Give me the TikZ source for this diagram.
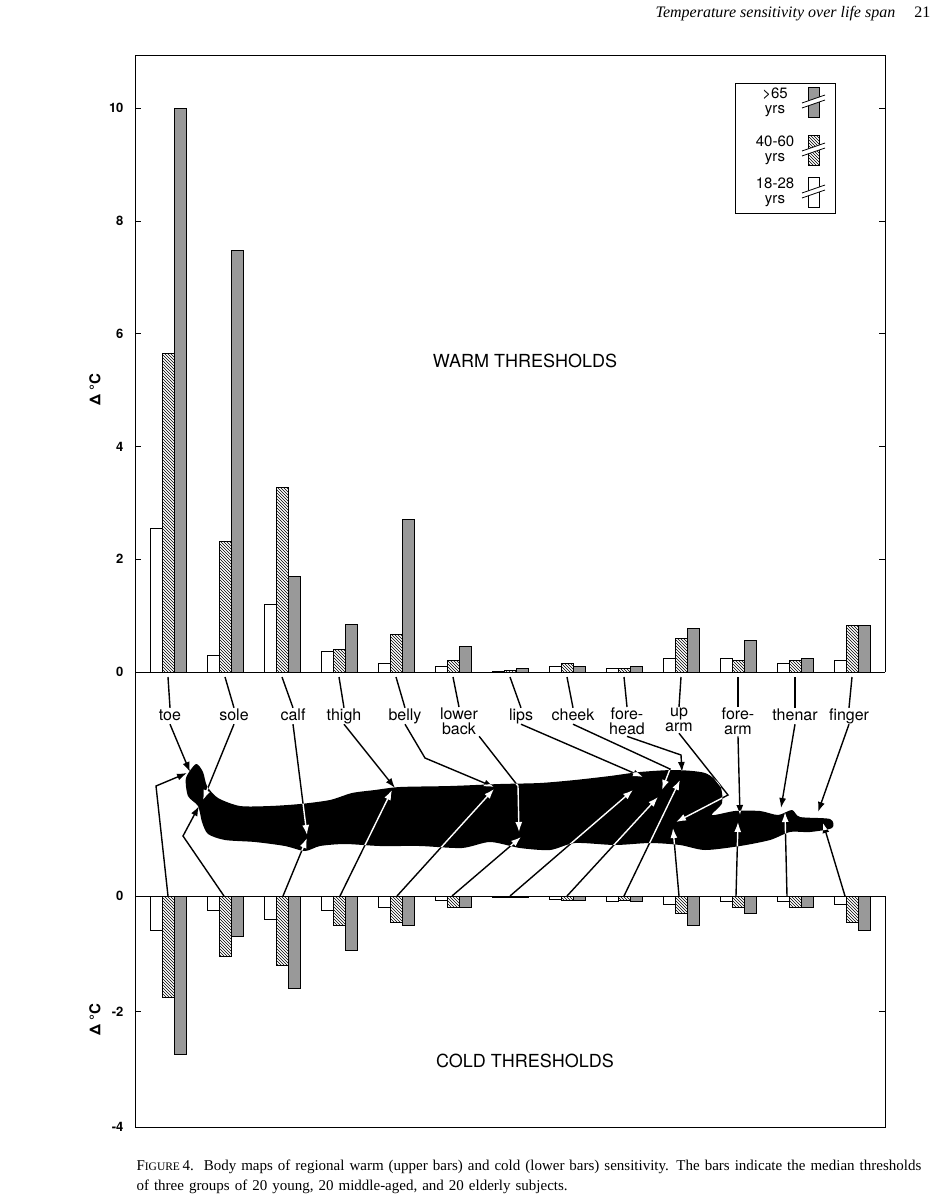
\documentclass[tikz,border=0pt]{standalone}
\usepackage{fontspec}
\setmainfont{Liberation Serif}
\newfontfamily\hv{TeX Gyre Heros}
\usetikzlibrary{patterns,arrows.meta}
\begin{document}
\begin{tikzpicture}[x=1pt,y=-1pt,
  lab/.style={font=\hv\fontsize{16}{16}\selectfont,align=center,inner sep=1pt,text height=11pt,text depth=3pt},
  labtwo/.style={font=\hv\fontsize{16}{15}\selectfont,align=center,inner sep=1pt,anchor=north},
  tick/.style={font=\hv\bfseries\fontsize{13}{13}\selectfont,anchor=east},
  conn/.style={line width=1.4pt,-{Latex[length=10pt,width=7pt]}},
  plainl/.style={line width=1.4pt},
  wb/.style={draw,line width=0.7pt,fill=white},
  hb/.style={draw,line width=0.7pt,pattern=north west lines},
  gb/.style={draw,line width=0.7pt,fill=black!40}]
\useasboundingbox (0,0) rectangle (951,1200);
% header
\node[anchor=east,font=\itshape\fontsize{16}{16}\selectfont] (hdr) at (934,14) {Temperature sensitivity over life span\hspace{1.2em}\upshape 21};
% frames
\draw[line width=0.8pt] (135,55) -- (885,55) -- (885,672);
\draw[line width=0.8pt] (135,55) -- (135,1127) -- (885,1127) -- (885,896);
\draw[line width=0.8pt] (135,672) -- (885,672);
\draw[line width=0.8pt] (135,896) -- (885,896);
% ticks
\foreach \v in {0,2,4,6,8,10}{
  \pgfmathsetmacro\yy{672-56.4*\v}
  \draw (135,\yy) -- (141,\yy); \draw (885,\yy) -- (879,\yy);
  \node[tick] at (127,\yy) {\v};}
\foreach \v/\t in {0/0,-2/-2,-4/-4}{
  \pgfmathsetmacro\yy{896-57.7*\v}
  \draw (135,\yy) -- (141,\yy); \draw (885,\yy) -- (879,\yy);
  \node[tick] at (127,\yy) {\t};}
\node[rotate=90,font=\hv\bfseries\fontsize{15}{15}\selectfont] (yl1) at (95,390) {Δ °C};
\node[rotate=90,font=\hv\bfseries\fontsize{15}{15}\selectfont] (yl2) at (95,1020) {Δ °C};
\node[font=\hv\fontsize{18}{18}\selectfont] (warm) at (525,361) {WARM THRESHOLDS};
\node[font=\hv\fontsize{18}{18}\selectfont] (cold) at (525,1061) {COLD THRESHOLDS};
% warm bars
\foreach \i/\a/\b/\c in {0/2.55/5.65/10,1/0.3/2.32/7.47,2/1.2/3.27/1.7,3/0.37/0.4/0.85,4/0.15/0.67/2.7,5/0.1/0.2/0.45,6/0.02/0.03/0.07,7/0.1/0.15/0.1,8/0.07/0.07/0.1,9/0.25/0.6/0.78,10/0.25/0.2/0.57,11/0.15/0.2/0.25,12/0.2/0.82/0.82}{
  \pgfmathsetmacro\g{168+57*\i}
  \draw[wb] (\g-18,672) rectangle (\g-6,672-56.4*\a);
  \draw[hb] (\g-6,672) rectangle (\g+6,672-56.4*\b);
  \draw[gb] (\g+6,672) rectangle (\g+18,672-56.4*\c);}
% cold bars
\foreach \i/\a/\b/\c in {0/0.6/1.75/2.75,1/0.25/1.05/0.7,2/0.4/1.2/1.6,3/0.25/0.5/0.95,4/0.2/0.45/0.5,5/0.08/0.2/0.2,6/0.03/0.03/0.03,7/0.05/0.08/0.08,8/0.1/0.08/0.1,9/0.15/0.3/0.5,10/0.1/0.2/0.3,11/0.1/0.2/0.2,12/0.15/0.45/0.6}{
  \pgfmathsetmacro\g{168+57*\i}
  \draw[wb] (\g-18,896) rectangle (\g-6,896+57.7*\a);
  \draw[hb] (\g-6,896) rectangle (\g+6,896+57.7*\b);
  \draw[gb] (\g+6,896) rectangle (\g+18,896+57.7*\c);}
% legend
\draw[line width=0.8pt] (735,83) rectangle (835,213);
\node[align=center,font=\hv\fontsize{15}{15}\selectfont] (l1) at (775,102) {>65\\yrs};
\node[align=center,font=\hv\fontsize{15}{15}\selectfont] (l2) at (775,150) {40-60\\yrs};
\node[align=center,font=\hv\fontsize{15}{15}\selectfont] (l3) at (775,192) {18-28\\yrs};
\foreach \y/\s in {102/gb,150/hb,192/wb}{
  \draw[\s] (808,\y-15) rectangle (819,\y+15);
  \fill[white] (802,\y+1) -- (825,\y-7) -- (825,\y-2) -- (802,\y+6) -- cycle;
  \draw[line width=0.8pt] (802,\y+1) -- (825,\y-7) (802,\y+6) -- (825,\y-2);}
% labels
\node[lab] (toe) at (170,716) {toe};
\node[lab] (sole) at (234,716) {sole};
\node[lab] (calf) at (293,716) {calf};
\node[lab] (thigh) at (344,716) {thigh};
\node[lab] (belly) at (405,716) {belly};
\node[labtwo] (lback) at (459,707) {lower\\back};
\node[lab] (lips) at (521,716) {lips};
\node[lab] (cheek) at (573,716) {cheek};
\node[labtwo] (fhead) at (627,707) {fore-\\head};
\node[labtwo] (uarm) at (679,707) {up\\arm};
\node[labtwo] (farm) at (738,707) {fore-\\arm};
\node[lab] (thenar) at (795,716) {thenar};
\node[lab] (finger) at (849,716) {finger};
\foreach \n/\x in {toe/168,sole/225,calf/282,thigh/339,belly/396,lback/453,lips/510,cheek/567,fhead/624,uarm/681,farm/738,thenar/795,finger/852}{
  \coordinate (a\n) at (\x,677);
  \draw[plainl] (a\n) -- (\n.north);}
% body
\def\bodypath{plot[smooth cycle,tension=0.45] coordinates{(196,764) (203,772) (207,786) (218,798) (240,806) (270,806) (300,804) (330,800) (352,793) (375,790) (400,787) (450,786) (500,784) (540,783) (575,780) (610,776) (640,772) (675,770) (705,773) (720,785) (722,803) (712,815) (735,811) (760,811) (778,815) (792,810) (800,817) (830,819) (832,828) (810,832) (790,832) (770,840) (740,846) (705,850) (680,845) (650,843) (615,845) (575,843) (550,850) (520,848) (490,842) (462,848) (420,846) (380,846) (345,844) (320,846) (305,851) (285,846) (255,842) (225,840) (208,834) (202,822) (198,806) (188,796) (186,778)}}
\fill[black] \bodypath;
% targets
\foreach \n/\x/\y in {ttoe/190/772,tsole/203/800,tcalf/307/835,tthigh/395/788,tbelly/494/787,tlback/519/832,tlips/643/777,tcheek/662/790,tfhead/682/772,tuarm/676/822,tfarm/740/815,tthenar/781/808,tfinger/818/812,
  btoe/187/773,bsole/199/806,bcalf/307/838,bthigh/392/790,bbelly/494/789,blback/521/837,blips/633/790,bcheek/658/797,bfhead/680/780,buarm/673/828,bfarm/738/822,bthenar/785/812,bfinger/823/823,
  ktoe/156/786,ksole/183/836,kbelly/425/758,klback/518/786,kcheek/670/769,kfhead/681/755,kuarm/728/795,
  stoe/168/896,ssole/224/896,scalf/283/896,sthigh/340/896,sbelly/397/896,slback/452/896,slips/510/896,scheek/567/896,sfhead/624/896,suarm/679/896,sfarm/736/896,sthenar/787/896,sfinger/845/896}
  {\coordinate (\n) at (\x,\y);}
\def\arrows{
\draw[conn] (toe.south) -- (ttoe);
\draw[conn] (sole.south) -- (tsole);
\draw[conn] (calf.south) -- (tcalf);
\draw[conn] (thigh.south) -- (tthigh);
\draw[conn] (belly.south) -- (kbelly) -- (tbelly);
\draw[conn] (lback.south east) -- (klback) -- (tlback);
\draw[conn] (lips.south) -- (tlips);
\draw[conn] (cheek.south) -- (kcheek) -- (tcheek);
\draw[conn] (fhead.south) -- (kfhead) -- (tfhead);
\draw[conn] (uarm.south) -- (kuarm) -- (tuarm);
\draw[conn] (farm.south) -- (tfarm);
\draw[conn] (thenar.south) -- (tthenar);
\draw[conn] (finger.south) -- (tfinger);
\draw[conn] (stoe) -- (ktoe) -- (btoe);
\draw[conn] (ssole) -- (ksole) -- (bsole);
\draw[conn] (scalf) -- (bcalf);
\draw[conn] (sthigh) -- (bthigh);
\draw[conn] (sbelly) -- (bbelly);
\draw[conn] (slback) -- (blback);
\draw[conn] (slips) -- (blips);
\draw[conn] (scheek) -- (bcheek);
\draw[conn] (sfhead) -- (bfhead);
\draw[conn] (suarm) -- (buarm);
\draw[conn] (sfarm) -- (bfarm);
\draw[conn] (sthenar) -- (bthenar);
\draw[conn] (sfinger) -- (bfinger);}
\arrows
\begin{scope}
\clip \bodypath;
\tikzset{conn/.append style={white}}
\arrows
\end{scope}
% caption
\node[anchor=west,font=\fontsize{15}{20}\selectfont,align=left,text width=820pt] (cap) at (133,1177)
 {F{\fontsize{11.5}{20}\selectfont IGURE}\,4.\ \ Body maps of regional warm (upper bars) and cold (lower bars) sensitivity. The bars indicate the median thresholds\\of three groups of 20 young, 20 middle-aged, and 20 elderly subjects.};
\end{tikzpicture}
\end{document}
